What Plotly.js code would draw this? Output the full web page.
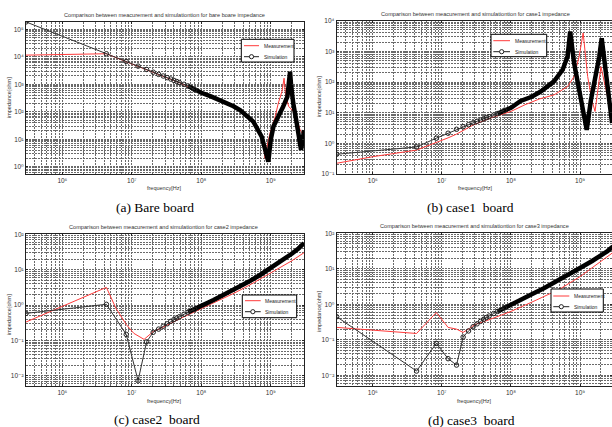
<!DOCTYPE html>
<html>
<head>
<meta charset="utf-8">
<script src="https://cdn.plot.ly/plotly-3.0.1.min.js"></script>
<style>
html,body{margin:0;padding:0;background:#fff;overflow:hidden}
#chart{width:612px;height:427px}
</style>
</head>
<body>
<div id="chart"></div>
<script>
// ================= DATA =================
const xTickVals = [1e6, 1e7, 1e8, 1e9];
const xTickText = ['10\u2076', '10\u2077', '10\u2078', '10\u2079'];
const yTickValsA = [1, 10, 100, 1e3, 1e4, 1e5];
const yTickTextA = ['10\u2070', '10\u00b9', '10\u00b2', '10\u00b3', '10\u2074', '10\u2075'];
const yTickValsB = [0.1, 1, 10, 100, 1e3, 1e4];
const yTickTextB = ['10\u207b\u00b9', '10\u2070', '10\u00b9', '10\u00b2', '10\u00b3', '10\u2074'];
const yTickValsCD = [0.01, 0.1, 1, 10, 100];
const yTickTextCD = ['10\u207b\u00b2', '10\u207b\u00b9', '10\u2070', '10\u00b9', '10\u00b2'];

const seriesNames = ['Measurement', 'Simulation'];
const panelTitles = [
  'Comparison between meacurement and simulationtion for bare boare impedance',
  'Comparison between meacurement and simulationtion for case1 impedance',
  'Comparison between meacurement and simulationtion for case2 impedance',
  'Comparison between meacurement and simulationtion for case3 impedance'
];
const captions = ['(a) Bare board', '(b) case1\u00a0\u00a0board', '(c) case2\u00a0\u00a0board', '(d) case3\u00a0\u00a0board'];
const xAxisTitle = 'frequency[Hz]';
const yAxisTitle = 'impedance[ohm]';

// (a) bare board
const aSimFreq = [3e5, 4.3e6, 8.3e6, 1.23e7, 1.63e7, 2.03e7, 2.43e7, 2.83e7, 3.23e7, 3.63e7, 4.03e7, 4.43e7, 4.83e7, 5.63e7, 6.43e7, 8.03e7, 1e8, 1.4e8, 2e8, 2.9e8, 3.6e8, 5.6e8, 7.4e8, 8.7e8, 9.2e8, 9.95e8, 1.09e9, 1.21e9, 1.36e9, 1.5e9, 1.73e9, 1.84e9, 1.89e9, 1.95e9, 2.1e9, 2.36e9, 2.63e9, 2.72e9, 2.85e9, 3e9];
const aSimImp  = [186000, 12900, 6760, 4570, 3470, 2750, 2290, 2000, 1740, 1550, 1380, 1260, 1150, 1000, 871, 631, 490, 355, 251, 158, 115, 43.7, 12.3, 3.09, 1.51, 9.33, 28.8, 50.1, 87.1, 151, 355, 1000, 2880, 1000, 204, 38, 7.08, 4.07, 7.94, 21.4];
const aMeasFreq = [3e5, 1e6, 2e6, 4.3e6, 8.3e6, 1.23e7, 2e7, 5e7, 1e8, 2e8, 3e8, 4e8, 5.6e8, 7.4e8, 7.9e8, 8.26e8, 8.6e8, 9.7e8, 1.15e9, 1.28e9, 1.45e9, 1.55e9, 1.62e9, 1.8e9, 2.22e9, 2.63e9, 3e9];
const aMeasImp  = [11500, 12000, 12600, 12900, 6610, 4470, 2750, 1100, 501, 240, 145, 95.5, 41.7, 10, 5.01, 2.0, 3.98, 16.2, 63.1, 204, 562, 1660, 468, 158, 87.1, 22.4, 12.6];

// (b) case1
const bSimFreq = [3e5, 4.3e6, 8.3e6, 1.23e7, 1.63e7, 2.03e7, 2.43e7, 2.83e7, 3.23e7, 3.63e7, 4.03e7, 4.43e7, 4.83e7, 5.63e7, 6.43e7, 8.03e7, 1e8, 1.38e8, 2e8, 2.7e8, 4.2e8, 5.6e8, 6.6e8, 7.2e8, 8.2e8, 9.7e8, 1.15e9, 1.25e9, 1.44e9, 1.7e9, 1.9e9, 2.06e9, 2.38e9, 2.66e9, 2.91e9];
const bSimImp  = [0.441, 0.762, 1.47, 2.14, 2.88, 3.47, 4.07, 4.68, 5.25, 5.75, 6.31, 6.9, 7.41, 8.32, 9.33, 12, 14.5, 24, 33.1, 49, 105, 251, 676, 4470, 417, 56.2, 9.55, 2.75, 26.3, 151, 676, 2690, 151, 20.4, 4.57];
const bMeasFreq = [3e5, 1e6, 4.3e6, 8.3e6, 1.23e7, 1.63e7, 2.85e7, 5e7, 1e8, 1.6e8, 2.6e8, 4.2e8, 6.6e8, 8.2e8, 9.7e8, 1.11e9, 1.29e9, 1.48e9, 1.65e9, 1.84e9, 2.01e9, 2.38e9, 2.66e9, 2.91e9];
const bMeasImp  = [0.224, 0.367, 0.603, 1.05, 1.51, 2.0, 3.98, 6.61, 11, 18.2, 28.2, 38, 70.8, 151, 676, 3980, 151, 26.3, 11, 70.8, 316, 56.2, 15.8, 7.41];

// (c) case2
const cSimFreq = [3e5, 4.3e6, 8.3e6, 1.23e7, 1.63e7, 2.03e7, 2.43e7, 2.83e7, 3.23e7, 3.63e7, 4.03e7, 4.43e7, 4.83e7, 5.63e7, 6.43e7, 8.03e7, 1e8, 1.5e8, 2e8, 3e8, 5e8, 7e8, 1e9, 1.5e9, 2e9, 2.5e9, 3e9];
const cSimImp  = [0.582, 1.05, 0.148, 0.00724, 0.0912, 0.17, 0.209, 0.251, 0.295, 0.347, 0.389, 0.43, 0.468, 0.55, 0.631, 0.759, 0.933, 1.38, 1.86, 2.75, 4.79, 7.08, 11.2, 19.1, 28.2, 39.8, 56.2];
const cMeasFreq = [3e5, 4.3e6, 5.9e6, 8.3e6, 1.07e7, 1.5e7, 2.03e7, 3e7, 5e7, 1e8, 2e8, 3e8, 5e8, 1e9, 2e9, 3e9];
const cMeasImp  = [0.331, 3.16, 0.813, 0.282, 0.158, 0.107, 0.178, 0.251, 0.417, 0.794, 1.51, 2.19, 3.72, 7.94, 17.8, 30.2];

// (d) case3
const dSimFreq = [3e5, 4.3e6, 8.3e6, 1.23e7, 1.63e7, 2.03e7, 2.43e7, 2.83e7, 3.23e7, 3.63e7, 4.03e7, 4.43e7, 4.83e7, 5.63e7, 6.43e7, 8.03e7, 1e8, 1.5e8, 2e8, 3e8, 5e8, 7e8, 1e9, 1.5e9, 2e9, 2.5e9, 3e9];
const dSimImp  = [0.447, 0.0132, 0.0794, 0.0295, 0.0195, 0.12, 0.178, 0.234, 0.282, 0.331, 0.38, 0.427, 0.468, 0.55, 0.631, 0.794, 0.955, 1.45, 1.91, 2.82, 4.79, 6.92, 10.5, 16.6, 23.4, 31.6, 42.7];
const dMeasFreq = [3e5, 4.3e6, 8.3e6, 1.23e7, 1.63e7, 2.03e7, 2.5e7, 3e7, 4.3e7, 1e8, 2e8, 5e8, 1e9, 2e9, 3e9];
const dMeasImp  = [0.224, 0.151, 0.589, 0.224, 0.2, 0.162, 0.209, 0.269, 0.339, 0.631, 1.15, 2.63, 6.03, 15.8, 28.8];

// ================= STYLE / LAYOUT =================
const W = 612, H = 427;
const SANS = '"Liberation Sans", Arial, "DejaVu Sans", sans-serif';
const SERIF = '"Liberation Serif", "Times New Roman", serif';
const RED = '#ff3a3a';
const GRID = '#6a6a6a';
const GDASH = '2px,1px';
const SPARSE_MAX = 8.1e7;   // markers distinguishable below this frequency
const DENSE_MIN = 6.4e7;    // overlapping markers form a thick band above this

const px = v => v / W;
const py = v => 1 - v / H;
function minorVals(lo, hi) {
  const v = [];
  for (let e = lo; e <= hi; e++) for (let m = 2; m <= 9; m++) v.push(m * Math.pow(10, e));
  return v;
}
const XL = Math.log10(3e5), XR = Math.log10(3e9);

const panels = [
  { simF: aSimFreq, simZ: aSimImp, measF: aMeasFreq, measZ: aMeasImp,
    box: [26, 304, 21.7, 174], xr: [XL, XR], yr: [-0.266, 5.277], ytv: yTickValsA, ytt: yTickTextA, ydec: [-1, 5],
    title: [164, 15], ylab: [9, 98], xlab: [164, 188.5], cap: [155, 207],
    leg: [241.3, 294, 39.3, 62], rows: [45.7, 56.7], line: [244, 259], tx: 261.5 },
  { simF: bSimFreq, simZ: bSimImp, measF: bMeasFreq, measZ: bMeasImp,
    box: [336.7, 612, 20.7, 174], xr: [XL, 9.463], yr: [-1, 4], ytv: yTickValsB, ytt: yTickTextB, ydec: [-2, 4],
    title: [475, 14.3], ylab: [319, 97], xlab: [475, 188.5], cap: [470, 207],
    leg: [491, 546.7, 34.3, 56.7], rows: [40.7, 51.7], line: [493.3, 510], tx: 512.5 },
  { simF: cSimFreq, simZ: cSimImp, measF: cMeasFreq, measZ: cMeasImp,
    box: [26, 304, 234.3, 385.7], xr: [XL, XR], yr: [-2.28, 2], ytv: yTickValsCD, ytt: yTickTextCD, ydec: [-3, 2],
    title: [163.3, 226.5], ylab: [9, 315], xlab: [164, 401], cap: [157.5, 419.3],
    leg: [242.3, 296.7, 295, 317.7], rows: [300.7, 311.7], line: [245, 260.7], tx: 263 },
  { simF: dSimFreq, simZ: dSimImp, measF: dMeasFreq, measZ: dMeasImp,
    box: [336.7, 612, 233.3, 386], xr: [XL, 9.463], yr: [-2.3, 2], ytv: yTickValsCD, ytt: yTickTextCD, ydec: [-3, 2],
    title: [474.7, 226], ylab: [318.7, 311], xlab: [474, 401], cap: [471, 420],
    leg: [551, 603.3, 289, 312], rows: [296, 306.7], line: [553.3, 569.3], tx: 571.5 }
];

const layout = {
  width: W, height: H,
  margin: { l: 0, r: 0, t: 0, b: 0 },
  paper_bgcolor: '#ffffff', plot_bgcolor: '#ffffff',
  showlegend: false,
  font: { family: SANS, color: '#333' },
  annotations: [], shapes: []
};
const traces = [];
const tickFont = { family: SANS, size: 6.5, color: '#333' };
const smallFont = { family: SANS, size: 5.5, color: '#333' };
const legFont = { family: SANS, size: 5, color: '#222' };

panels.forEach((p, i) => {
  const n = i === 0 ? '' : String(i + 1);
  const common = {
    type: 'log', showgrid: true, gridcolor: GRID, griddash: GDASH, gridwidth: 1,
    showline: true, mirror: 'ticks', linecolor: '#222', linewidth: 1,
    ticks: 'inside', ticklen: 2, tickcolor: '#222', tickfont: tickFont,
    zeroline: false, fixedrange: true
  };
  layout['xaxis' + n] = Object.assign({}, common, {
    domain: [px(p.box[0]), px(p.box[1])], range: p.xr, anchor: 'y' + n,
    tickmode: 'array', tickvals: xTickVals, ticktext: xTickText,
    minor: { tickmode: 'array', tickvals: minorVals(5, 9), showgrid: true, gridcolor: GRID, griddash: GDASH, gridwidth: 1, ticks: '' }
  });
  layout['yaxis' + n] = Object.assign({}, common, {
    domain: [py(p.box[3]), py(p.box[2])], range: p.yr, anchor: 'x' + n,
    tickmode: 'array', tickvals: p.ytv, ticktext: p.ytt,
    minor: { tickmode: 'array', tickvals: minorVals(p.ydec[0], p.ydec[1]), showgrid: true, gridcolor: GRID, griddash: GDASH, gridwidth: 1, ticks: '' }
  });

  // measurement
  traces.push({
    type: 'scatter', mode: 'lines', name: seriesNames[0],
    x: p.measF, y: p.measZ, xaxis: 'x' + n, yaxis: 'y' + n,
    line: { color: RED, width: 1 }, hoverinfo: 'skip'
  });
  // simulation: the densely sampled part shows as a thick band of overlapping markers
  const denseF = [], denseZ = [], sparseF = [], sparseZ = [];
  p.simF.forEach((f, k) => {
    if (f <= SPARSE_MAX) { sparseF.push(f); sparseZ.push(p.simZ[k]); }
    if (f >= DENSE_MIN) { denseF.push(f); denseZ.push(p.simZ[k]); }
  });
  traces.push({
    type: 'scatter', mode: 'lines', name: seriesNames[1],
    x: denseF, y: denseZ, xaxis: 'x' + n, yaxis: 'y' + n,
    line: { color: '#000', width: 4.5 }, hoverinfo: 'skip'
  });
  traces.push({
    type: 'scatter', mode: 'lines+markers', name: seriesNames[1],
    x: sparseF, y: sparseZ, xaxis: 'x' + n, yaxis: 'y' + n,
    line: { color: '#333', width: 1 },
    marker: { symbol: 'circle-open', size: 4.5, color: '#222', line: { width: 1, color: '#222' } },
    hoverinfo: 'skip'
  });

  // texts
  const ann = (x, y, text, font, extra) => layout.annotations.push(Object.assign({
    xref: 'paper', yref: 'paper', x: px(x), y: py(y), text: text, showarrow: false,
    xanchor: 'center', yanchor: 'middle', font: font
  }, extra || {}));
  ann(p.title[0], p.title[1], panelTitles[i], { family: SANS, size: 5.6, color: '#333' });
  ann(p.ylab[0], p.ylab[1], yAxisTitle, smallFont, { textangle: -90 });
  ann(p.xlab[0], p.xlab[1], xAxisTitle, smallFont);
  ann(p.cap[0], p.cap[1], captions[i], { family: SERIF, size: 13.5, color: '#000' });

  // legend box
  const [lx0, lx1, ly0, ly1] = p.leg;
  layout.shapes.push({ type: 'rect', xref: 'paper', yref: 'paper', layer: 'above',
    x0: px(lx0), x1: px(lx1), y0: py(ly1), y1: py(ly0),
    line: { color: '#000', width: 1 }, fillcolor: '#fff' });
  layout.shapes.push({ type: 'line', xref: 'paper', yref: 'paper', layer: 'above',
    x0: px(p.line[0]), x1: px(p.line[1]), y0: py(p.rows[0]), y1: py(p.rows[0]),
    line: { color: RED, width: 1 } });
  layout.shapes.push({ type: 'line', xref: 'paper', yref: 'paper', layer: 'above',
    x0: px(p.line[0]), x1: px(p.line[1]), y0: py(p.rows[1]), y1: py(p.rows[1]),
    line: { color: '#222', width: 1 } });
  const cx = (p.line[0] + p.line[1]) / 2, cy = p.rows[1], r = 2.1;
  layout.shapes.push({ type: 'circle', xref: 'paper', yref: 'paper', layer: 'above',
    x0: px(cx - r), x1: px(cx + r), y0: py(cy + r), y1: py(cy - r),
    line: { color: '#222', width: 1 }, fillcolor: '#fff' });
  ann(p.tx, p.rows[0], seriesNames[0], legFont, { xanchor: 'left' });
  ann(p.tx, p.rows[1], seriesNames[1], legFont, { xanchor: 'left' });
});

Plotly.newPlot('chart', traces, layout, { staticPlot: true, displayModeBar: false });
</script>
</body>
</html>
